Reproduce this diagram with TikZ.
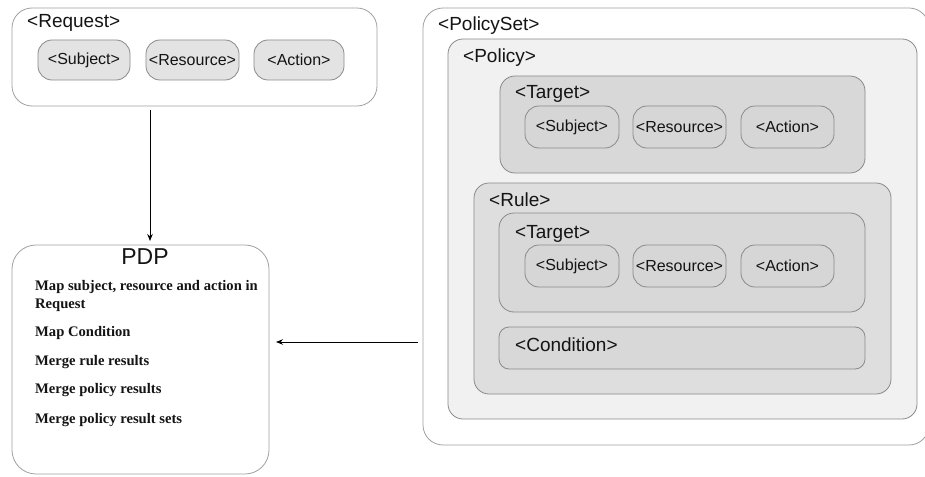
\documentclass[tikz,border=0pt]{standalone}
\usepackage{fontspec}
\setmainfont{Liberation Sans}
\newfontfamily\pdpserif{Liberation Serif}
\usetikzlibrary{arrows.meta}
\definecolor{outline}{HTML}{8A8A8A}
\definecolor{outerline}{HTML}{A0A0A0}
\definecolor{reqpill}{HTML}{E3E3E3}
\definecolor{policyfill}{HTML}{F1F1F1}
\definecolor{targetfill}{HTML}{D8D8D8}
\definecolor{rulefill}{HTML}{DEDEDE}
\definecolor{pillfill}{HTML}{D6D6D6}
\definecolor{txt}{HTML}{141414}
\tikzset{
  frame/.style={draw=outerline, line width=0.8pt, fill=white, rounded corners=20pt, inner sep=0pt, outer sep=0pt, anchor=north west},
  box/.style={draw=outline, line width=0.8pt, rounded corners=15pt, inner sep=0pt, outer sep=0pt, anchor=north west},
  pill/.style={draw=outline, line width=0.8pt, rounded corners=14pt, inner sep=0pt, outer sep=0pt, anchor=north west},
  title/.style={anchor=base west, inner sep=0pt, text=txt, font=\fontsize{19}{22}\selectfont},
  pilltext/.style={text=txt, inner sep=0pt, font=\fontsize{16}{19}\selectfont},
  pdpline/.style={anchor=base west, inner sep=0pt, text=txt, font=\pdpserif\bfseries\fontsize{14.6}{17}\selectfont},
  arrow/.style={draw=black, line width=0.8pt, -{Stealth[length=7pt,width=5.5pt]}}
}
\begin{document}
\begin{tikzpicture}[x=1pt,y=-1pt]
\useasboundingbox (0,0) rectangle (925,476);
% Request
\node[frame, minimum width=365pt, minimum height=98pt] (req) at (12,8) {};
\node[title] (reqt) at (27,28) {<Request>};
\node[pill, fill=reqpill, minimum width=92pt, minimum height=40pt] (rs) at (38,40) {};
\node[pilltext] at (rs.center) {<Subject>};
\node[pill, fill=reqpill, minimum width=93pt, minimum height=40pt] (rr) at (146,40) {};
\node[pilltext] at (rr.center) {<Resource>};
\node[pill, fill=reqpill, minimum width=90pt, minimum height=40pt] (ra) at (254,40) {};
\node[pilltext] at (ra.center) {<Action>};
% PDP
\node[frame, rounded corners=24pt, minimum width=257pt, minimum height=229pt] (pdp) at (12,245) {};
\node[anchor=base, inner sep=0pt, text=txt, font=\fontsize{23}{26}\selectfont] (pdpt) at (145,264) {PDP};
\node[pdpline] (l1) at (35,290) {Map subject, resource and action in};
\node[pdpline] (l2) at (35,308) {Request};
\node[pdpline] (l3) at (35,336) {Map Condition};
\node[pdpline] (l4) at (35,365) {Merge rule results};
\node[pdpline] (l5) at (35,393) {Merge policy results};
\node[pdpline] (l6) at (35,423) {Merge policy result sets};
% PolicySet
\node[frame, minimum width=506pt, minimum height=437pt] (ps) at (423,8) {};
\node[title] (pst) at (438,31) {<PolicySet>};
\node[box, fill=policyfill, minimum width=469pt, minimum height=380pt] (pol) at (448,39) {};
\node[title] (polt) at (463,63) {<Policy>};
% Policy target
\node[box, fill=targetfill, minimum width=365pt, minimum height=97pt] (pt) at (500,76) {};
\node[title] (ptt) at (515,99) {<Target>};
\node[pill, fill=pillfill, minimum width=94pt, minimum height=42pt] (ps1) at (525,106) {};
\node[pilltext] at (ps1.center) {<Subject>};
\node[pill, fill=pillfill, minimum width=93pt, minimum height=42pt] (pr1) at (633,106) {};
\node[pilltext] at (pr1.center) {<Resource>};
\node[pill, fill=pillfill, minimum width=93pt, minimum height=42pt] (pa1) at (741,106) {};
\node[pilltext] at (pa1.center) {<Action>};
% Rule
\node[box, fill=rulefill, minimum width=417pt, minimum height=211pt] (rule) at (474,183) {};
\node[title] (rulet) at (489,206) {<Rule>};
\node[box, fill=targetfill, minimum width=366pt, minimum height=99pt] (rt) at (499,213) {};
\node[title] (rtt) at (515,238) {<Target>};
\node[pill, fill=pillfill, minimum width=94pt, minimum height=42pt] (ps2) at (525,245) {};
\node[pilltext] at (ps2.center) {<Subject>};
\node[pill, fill=pillfill, minimum width=93pt, minimum height=42pt] (pr2) at (633,245) {};
\node[pilltext] at (pr2.center) {<Resource>};
\node[pill, fill=pillfill, minimum width=93pt, minimum height=42pt] (pa2) at (741,245) {};
\node[pilltext] at (pa2.center) {<Action>};
\node[box, rounded corners=10pt, fill=targetfill, minimum width=366pt, minimum height=42pt] (cond) at (499,327) {};
\node[title] (condt) at (515,351) {<Condition>};
% Connectors
\coordinate (reqout) at (150,106);
\coordinate (pdpin) at (150,245);
\draw[arrow, shorten <=4pt, shorten >=4pt] (reqout) -- (pdpin);
\coordinate (psout) at (423,342);
\coordinate (pdpside) at (269,342);
\draw[arrow, shorten <=5pt, shorten >=7pt] (psout) -- (pdpside);
\end{tikzpicture}
\end{document}
